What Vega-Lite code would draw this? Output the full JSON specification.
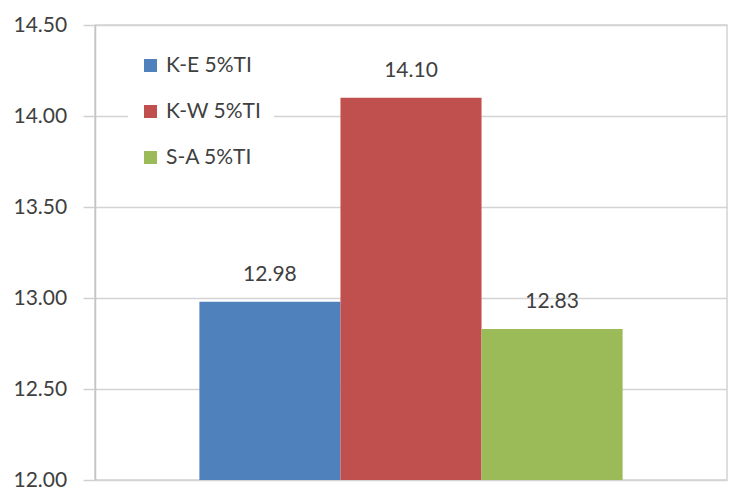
{
  "$schema": "https://vega.github.io/schema/vega-lite/v6.json",
  "width": 632,
  "height": 455,
  "autosize": {"type": "none"},
  "padding": {"left": 95, "top": 25, "right": 24, "bottom": 9},
  "background": "white",
  "config": {
    "view": {"stroke": "#d4d4d4", "strokeWidth": 1.5},
    "font": "Lato"
  },
  "data": {
    "values": [
      {"series": "K-E 5%TI", "value": 12.98},
      {"series": "K-W 5%TI", "value": 14.10},
      {"series": "S-A 5%TI", "value": 12.83}
    ]
  },
  "encoding": {
    "x": {
      "field": "series",
      "type": "nominal",
      "sort": null,
      "scale": {"paddingInner": 0, "paddingOuter": 0.74},
      "axis": null
    },
    "y": {
      "field": "value",
      "type": "quantitative",
      "scale": {"domain": [12, 14.5], "nice": false, "zero": false},
      "axis": {
        "title": null,
        "values": [12, 12.5, 13, 13.5, 14, 14.5],
        "format": ".2f",
        "labelAlign": "left",
        "labelBaseline": "middle",
        "labelPadding": 70,
        "labelFontSize": 21,
        "labelColor": "#404040",
        "labelFont": "Lato",
        "tickSize": 12,
        "tickColor": "#d0d0d0",
        "tickWidth": 1.5,
        "gridColor": "#d4d4d4",
        "gridWidth": 1.5,
        "domainColor": "#c4c4c4",
        "domainWidth": 1.5
      }
    }
  },
  "layer": [
    {
      "mark": {"type": "bar", "clip": true},
      "encoding": {
        "y2": {"datum": 12},
        "color": {
          "field": "series",
          "type": "nominal",
          "sort": null,
          "scale": {
            "domain": ["K-E 5%TI", "K-W 5%TI", "S-A 5%TI"],
            "range": ["#4F81BD", "#C0504D", "#9BBB59"]
          },
          "legend": {
            "title": null,
            "orient": "none",
            "legendX": 33,
            "legendY": 18,
            "padding": 12,
            "fillColor": "white",
            "strokeColor": null,
            "symbolType": "square",
            "symbolSize": 169,
            "symbolStrokeWidth": 0,
            "labelFontSize": 21,
            "labelColor": "#404040",
            "labelFont": "Lato",
            "labelOffset": 5,
            "rowPadding": 24
          }
        }
      }
    },
    {
      "mark": {"type": "text", "dy": -27, "fontSize": 21, "color": "#404040", "baseline": "middle", "font": "Lato"},
      "encoding": {
        "text": {"field": "value", "type": "quantitative", "format": ".2f"}
      }
    }
  ]
}
